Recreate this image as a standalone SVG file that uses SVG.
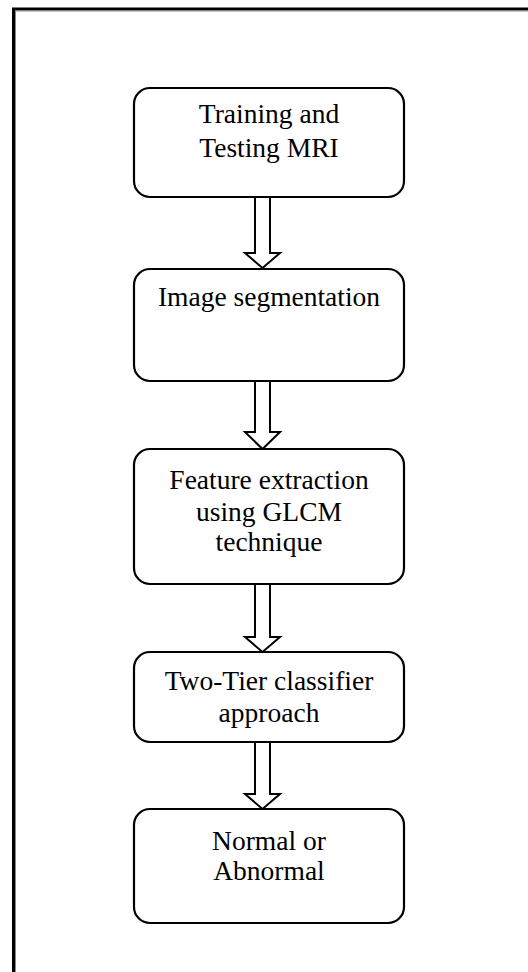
<svg xmlns="http://www.w3.org/2000/svg" width="528" height="972" viewBox="0 0 528 972">
<style>
.box{fill:#fff;stroke:#000;stroke-width:2.2}
.arr{fill:#fff;stroke:#000;stroke-width:2;stroke-linejoin:miter}
text{font-family:"Liberation Serif","Times New Roman",serif;font-size:27.5px;fill:#000;text-anchor:middle}
</style>
<rect width="528" height="972" fill="#fff"/>
<g id="frame">
<path d="M13.5,972 V9 H528" fill="none" stroke="#000" stroke-width="3"/>
<path d="M15.5,972 V11 H528" fill="none" stroke="#888" stroke-width="1"/>
</g>
<g id="connectors">
<polygon class="arr" points="255,197 255,253 245,253 262.5,268 280,253 270,253 270,197"/>
<polygon class="arr" points="255,381 255,432 245,432 262.5,449 280,432 270,432 270,381"/>
<polygon class="arr" points="255,584 255,637 245,637 262.5,652 280,637 270,637 270,584"/>
<polygon class="arr" points="255,742 255,794 245,794 262.5,809 280,794 270,794 270,742"/>
</g>
<g id="n1">
<rect class="box" x="134" y="88" width="270" height="109" rx="16"/>
<text x="269" y="123">Training and</text>
<text x="269" y="157">Testing MRI</text>
</g>
<g id="n2">
<rect class="box" x="134" y="269" width="270" height="112" rx="16"/>
<text x="269" y="306">Image segmentation</text>
</g>
<g id="n3">
<rect class="box" x="134" y="449" width="270" height="135" rx="16"/>
<text x="269" y="489">Feature extraction</text>
<text x="269" y="521">using GLCM</text>
<text x="269" y="551">technique</text>
</g>
<g id="n4">
<rect class="box" x="134" y="652" width="270" height="90" rx="16"/>
<text x="269" y="690">Two-Tier classifier</text>
<text x="269" y="722">approach</text>
</g>
<g id="n5">
<rect class="box" x="134" y="809" width="270" height="114" rx="16"/>
<text x="269" y="850">Normal or</text>
<text x="269" y="880">Abnormal</text>
</g>
</svg>
